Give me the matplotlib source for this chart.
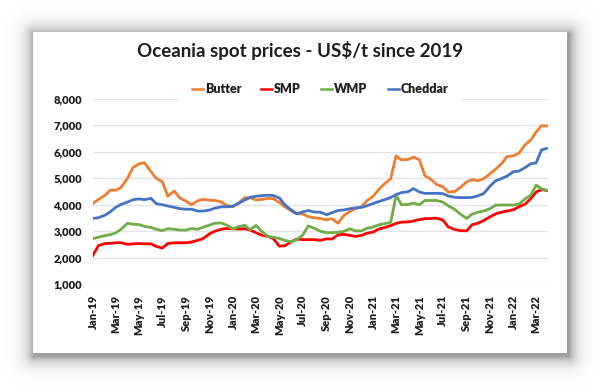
import numpy as np
import pandas as pd
import matplotlib
matplotlib.use("Agg")
import matplotlib.pyplot as plt
import matplotlib.dates as mdates
from matplotlib.patches import Rectangle
from matplotlib.ticker import FuncFormatter, MultipleLocator

# ---------------- data (US$/t, semi-monthly readings) ----------------
dates = list(pd.date_range("2019-01-01", "2022-03-15", freq="SMS")) + [pd.Timestamp("2022-03-28")]

butter = [4050, 4200, 4350, 4550, 4550, 4650, 5000, 5400, 5550, 5590,
          5250, 5000, 4870, 4320, 4520, 4260, 4130, 4000, 4150, 4200,
          4170, 4160, 4110, 3970, 3920, 4050, 4270, 4260, 4180, 4200,
          4240, 4230, 4080, 3920, 3760, 3660, 3650, 3550, 3500, 3480,
          3430, 3470, 3300, 3580, 3750, 3850, 3920, 4150, 4330, 4580,
          4820, 4980, 5850, 5700, 5710, 5800, 5700, 5100, 4950, 4760,
          4680, 4480, 4500, 4650, 4860, 4950, 4910, 4980, 5170, 5340,
          5550, 5820, 5850, 5950, 6280, 6440, 6750, 6990, 6980]

smp = [2090, 2450, 2530, 2540, 2560, 2560, 2500, 2520, 2530, 2520,
       2520, 2420, 2360, 2530, 2560, 2560, 2560, 2590, 2650, 2720,
       2900, 3000, 3070, 3100, 3090, 3080, 3090, 3040, 2940, 2850,
       2800, 2720, 2430, 2450, 2600, 2700, 2680, 2680, 2680, 2650,
       2710, 2700, 2860, 2880, 2840, 2800, 2840, 2920, 2970, 3080,
       3140, 3210, 3290, 3340, 3350, 3380, 3440, 3470, 3480, 3490,
       3420, 3160, 3060, 3020, 3010, 3240, 3300, 3400, 3540, 3650,
       3720, 3760, 3810, 3920, 4030, 4230, 4480, 4570, 4540]

wmp = [2720, 2770, 2830, 2870, 2930, 3070, 3300, 3260, 3250, 3180,
       3140, 3070, 3020, 3090, 3070, 3040, 3040, 3100, 3070, 3150,
       3230, 3300, 3310, 3230, 3080, 3170, 3220, 3050, 3220, 3000,
       2800, 2770, 2720, 2650, 2600, 2680, 2850, 3200, 3100, 3000,
       2940, 2940, 2960, 2990, 3090, 3010, 3010, 3110, 3160, 3240,
       3290, 3330, 4360, 4000, 4010, 4060, 4000, 4160, 4160, 4160,
       4100, 3960, 3820, 3650, 3480, 3640, 3720, 3760, 3850, 3980,
       3990, 3990, 3990, 4020, 4230, 4360, 4740, 4600, 4550]

cheddar = [3480, 3510, 3600, 3730, 3900, 4010, 4100, 4190, 4220, 4190,
           4240, 4040, 4000, 3950, 3900, 3850, 3830, 3830, 3760, 3760,
           3800, 3870, 3920, 3920, 3950, 4050, 4180, 4280, 4320, 4340,
           4360, 4350, 4250, 4000, 3800, 3660, 3730, 3780, 3720, 3720,
           3620, 3700, 3780, 3800, 3850, 3880, 3900, 3960, 4050, 4120,
           4200, 4270, 4380, 4460, 4490, 4610, 4480, 4430, 4430, 4430,
           4420, 4330, 4280, 4270, 4270, 4275, 4340, 4420, 4700, 4900,
           4990, 5080, 5250, 5270, 5410, 5550, 5580, 6070, 6130]

series_names = ["Butter", "SMP", "WMP", "Cheddar"]
series_colors = ["#ED7D31", "#FF0000", "#70AD47", "#4472C4"]
title = "Oceania spot prices - US$/t since 2019"

# ---------------- figure ----------------
W, H = 597, 385
fig = plt.figure(figsize=(W / 100, H / 100), dpi=100)
fig.patch.set_facecolor("white")
FONT = ["Lato", "DejaVu Sans"]
TXT = "#1e1e1e"

# background: card with soft drop shadow
bg = fig.add_axes([0, 0, 1, 1], zorder=-10)
ys, xs = np.mgrid[0:H, 0:W] + 0.5
sx0, sx1, sy0, sy1 = 34, 569, 34, 356
dx = np.maximum(np.maximum(sx0 - xs, xs - sx1), 0)
dy = np.maximum(np.maximum(sy0 - ys, ys - sy1), 0)
d = np.hypot(dx, dy)
alpha = 0.45 * np.exp(-d / 7.0)
img = np.zeros((H, W, 4))
img[..., 0:3] = 0.15
img[..., 3] = alpha
bg.imshow(img, extent=(0, W, H, 0), aspect="auto", interpolation="bilinear")
bg.add_patch(Rectangle((33, 32), 534, 321, facecolor="white", edgecolor="none"))
bg.set_xlim(0, W)
bg.set_ylim(H, 0)
bg.axis("off")

# main chart
ax = fig.add_axes([93 / W, 101 / H, 455 / W, 185 / H])
ax.set_facecolor("none")
for name, color, vals in zip(series_names, series_colors, [butter, smp, wmp, cheddar]):
    ax.plot(dates, vals, color=color, lw=2.0, label=name, solid_joinstyle="round")

ax.set_ylim(1000, 8000)
ax.set_xlim(pd.Timestamp("2019-01-01"), pd.Timestamp("2022-04-01"))
ax.yaxis.set_major_locator(MultipleLocator(1000))
ax.yaxis.set_major_formatter(FuncFormatter(lambda v, p: f"{int(v):,}"))
ax.xaxis.set_major_locator(mdates.MonthLocator(bymonth=[1, 3, 5, 7, 9, 11]))
ax.xaxis.set_major_formatter(mdates.DateFormatter("%b-%y"))
ax.grid(axis="y", color="#e3e3e3", lw=1.0)
ax.set_axisbelow(True)
for s in ax.spines.values():
    s.set_visible(False)
ax.tick_params(axis="both", length=0)
ax.tick_params(axis="y", pad=8)
ax.tick_params(axis="x", pad=8)
for lab in ax.get_yticklabels() + ax.get_xticklabels():
    lab.set_fontfamily(FONT)
    lab.set_fontweight("heavy")
    lab.set_fontsize(8)
    lab.set_color(TXT)
for lab in ax.get_xticklabels():
    lab.set_rotation(90)

leg = ax.legend(loc="center", bbox_to_anchor=(320 / W, 1 - 89 / H),
                bbox_transform=fig.transFigure, ncol=4, frameon=True,
                fancybox=False, borderpad=1.0, handlelength=0.9,
                handletextpad=0.15, columnspacing=1.6,
                prop={"family": FONT, "weight": "heavy", "size": 9})
leg.get_frame().set_facecolor("white")
leg.get_frame().set_edgecolor("none")
leg.get_frame().set_alpha(1)
for t in leg.get_texts():
    t.set_color(TXT)
for h in leg.get_lines():
    h.set_linewidth(1.8)

fig.text(300 / W, 1 - 50 / H, title, ha="center", va="center",
         family=FONT, weight="bold", fontsize=13.5, color=TXT)

fig.savefig("out.png", dpi=100, facecolor="white")
